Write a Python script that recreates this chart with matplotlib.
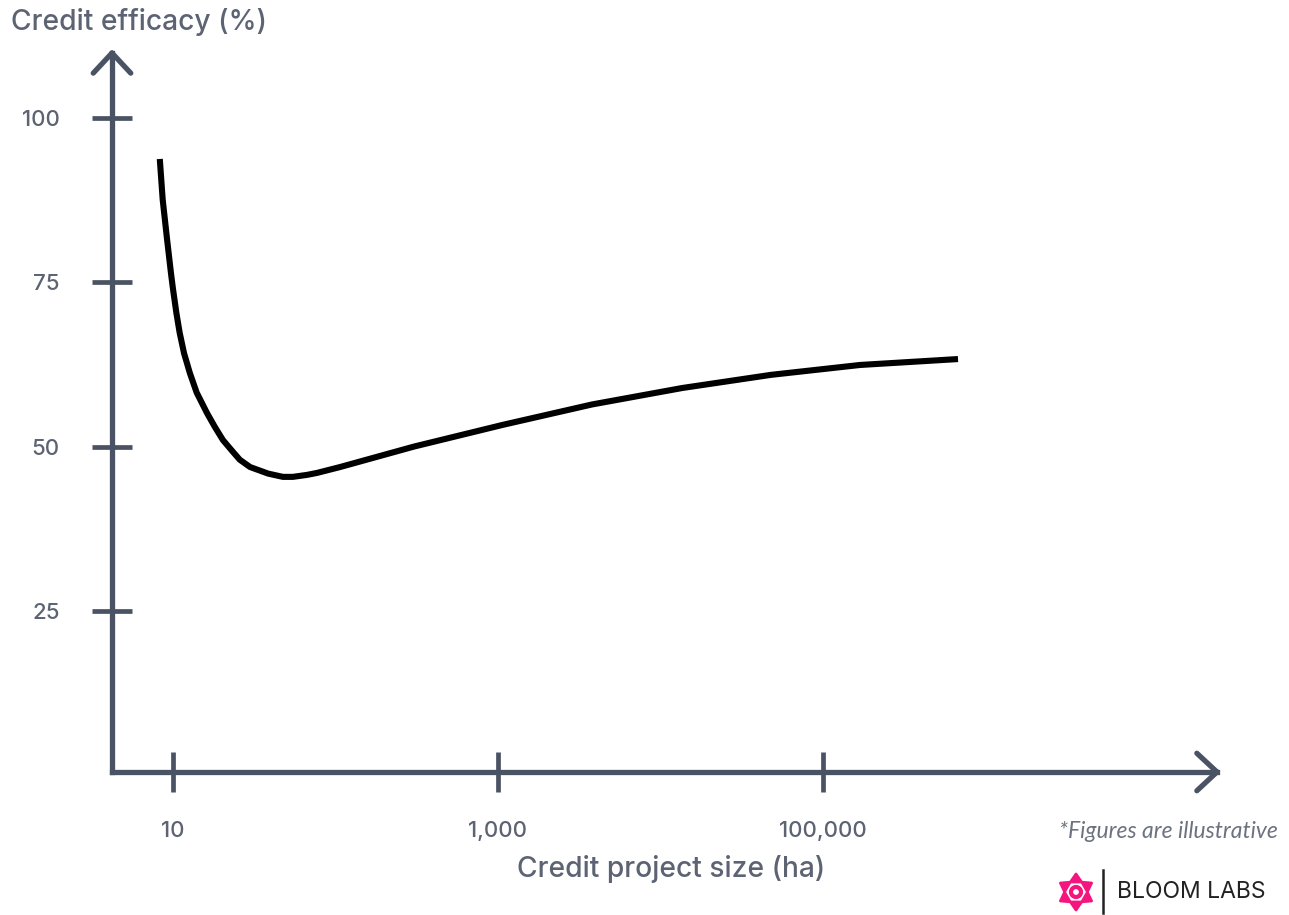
import matplotlib
matplotlib.use('Agg')
import matplotlib.pyplot as plt
from matplotlib.patches import Circle, Polygon
import numpy as np

# values (project size in ha, efficacy in %)
project_size = [8.3, 8.65, 9.2, 9.72, 10.0, 10.5, 11.0, 11.7, 12.7, 14.0, 16.2,
                18.1, 20.3, 23.4, 25.8, 29.8, 38.5, 47.5, 54.7, 66.8, 77,
                107, 304, 1070, 3790, 13600, 47900, 169000, 678000]
efficacy = [93.7, 87.5, 81.5, 76.4, 74.0, 70.3, 67.3, 64.2, 61.2, 58.2, 55.1,
            53.0, 51.0, 49.2, 48.0, 46.9, 45.9, 45.4, 45.4, 45.7, 46.0,
            46.9, 50.0, 53.3, 56.4, 58.9, 60.9, 62.4, 63.3]

x_ticks = [10, 1000, 100000]
x_tick_labels = ['10', '1,000', '100,000']
y_ticks = [25, 50, 75, 100]
y_tick_labels = ['25', '50', '75', '100']

AXIS_COLOR = '#4a5363'
TEXT_COLOR = '#5c6373'
PINK = '#f5157f'

W, H = 1289, 915
plt.rcParams['font.family'] = ['Inter', 'DejaVu Sans']

fig = plt.figure(figsize=(W / 100, H / 100), dpi=100)

# axes box: left spine at x=112px, bottom spine at y=772px, arrow tips at 1217 / 53
left, right, bottom, top = 112, 1217, 772, 53
ax = fig.add_axes([left / W, 1 - bottom / H, (right - left) / W, (bottom - top) / H])
ax.set_xscale('log')
ax.set_xlim(10 ** 0.625, 10 ** 7.425)
ax.set_ylim(0.56, 109.8)

ax.plot(project_size, efficacy, color='black', lw=4.4,
        solid_capstyle='butt', solid_joinstyle='round')

for s in ['top', 'right']:
    ax.spines[s].set_visible(False)
for s in ['left', 'bottom']:
    ax.spines[s].set_color(AXIS_COLOR)
    ax.spines[s].set_linewidth(3.8)
    ax.spines[s].set_capstyle('projecting')

ax.set_xticks(x_ticks)
ax.set_xticklabels(x_tick_labels, fontweight='medium')
ax.set_yticks(y_ticks)
ax.set_yticklabels(y_tick_labels, fontweight='medium')
ax.minorticks_off()
ax.tick_params(axis='both', direction='inout', length=29, width=3.4,
               color=AXIS_COLOR, labelcolor=TEXT_COLOR, labelsize=16)
ax.tick_params(axis='y', pad=23)
ax.tick_params(axis='x', pad=21)

# open chevron arrow heads at the ends of both axes
arm_kw = dict(arrowprops=dict(arrowstyle='-', color=AXIS_COLOR, lw=3.8,
                              shrinkA=0, shrinkB=0, capstyle='round'),
              textcoords='offset points', xycoords='axes fraction',
              annotation_clip=False)
for dy in (13.5, -13.5):
    ax.annotate('', xy=(1, 0), xytext=(-14.5, dy), **arm_kw)
for dx in (13.5, -13.5):
    ax.annotate('', xy=(0, 1), xytext=(dx, -14.5), **arm_kw)

# labels
fig.text(11 / W, 1 - 22 / H, 'Credit efficacy (%)', fontsize=20.3,
         weight='medium', color=TEXT_COLOR, ha='left', va='center')
fig.text(671 / W, 1 - 869 / H, 'Credit project size (ha)', fontsize=20.3,
         weight='medium', color=TEXT_COLOR, ha='center', va='center')
fig.text(1278 / W, 1 - 832 / H, '*Figures are illustrative', fontsize=16.5,
         style='italic', color='#6b7280', ha='right', va='center',
         family=['Lato', 'DejaVu Sans'])

# logo drawn in pixel coordinates
lax = fig.add_axes([0, 0, 1, 1])
lax.set_xlim(0, W)
lax.set_ylim(H, 0)
lax.axis('off')
lax.patch.set_alpha(0)
cx, cy = 1076, 892
lax.add_patch(Circle((cx, cy), 5.0, fc='none', ec=PINK, lw=3.0))
for ang in np.radians([90, 30, -30, -90, -150, 150]):
    ux, uy = np.cos(ang), -np.sin(ang)
    px, py = -uy, ux
    tip = (cx + 18 * ux, cy + 18 * uy)
    b1 = (cx + 10 * ux + 5.5 * px, cy + 10 * uy + 5.5 * py)
    b2 = (cx + 10 * ux - 5.5 * px, cy + 10 * uy - 5.5 * py)
    lax.add_patch(Polygon([tip, b1, b2], closed=True, fc=PINK, ec=PINK,
                          lw=2.0, joinstyle='round'))
lax.plot([1103, 1103], [870, 913], color='#222222', lw=1.8)
lax.text(1117, 892, 'BLOOM LABS', fontsize=16.5, color='#222222',
         ha='left', va='center')

fig.savefig('out.png', dpi=100)
